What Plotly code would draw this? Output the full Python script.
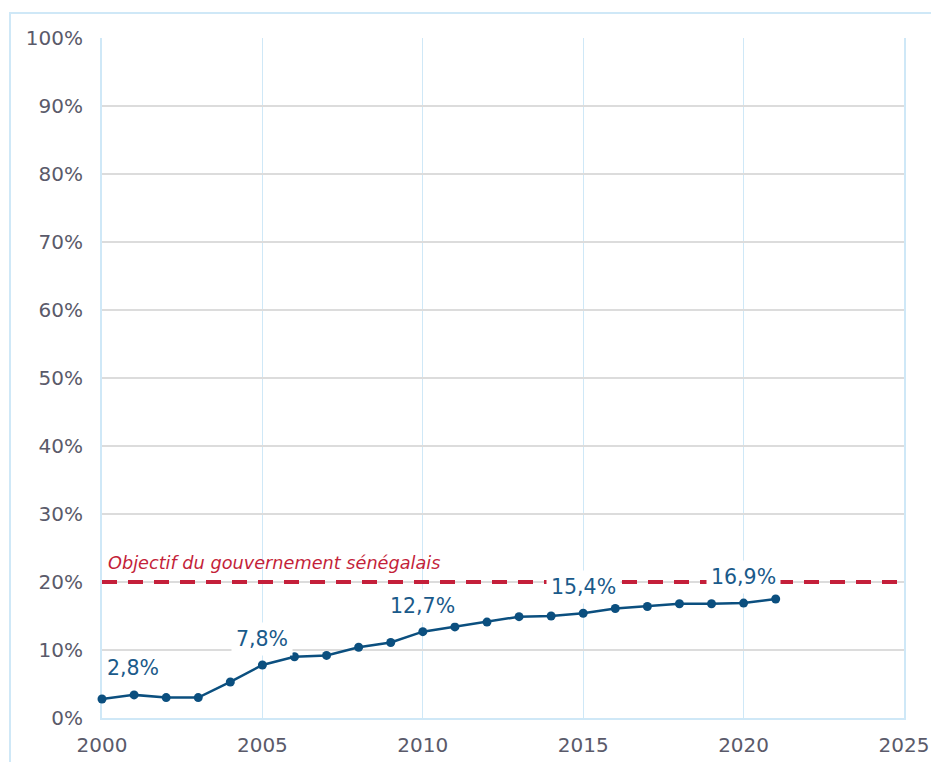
import plotly.graph_objects as go

years = list(range(2000, 2022))
values = [2.8, 3.4, 3.0, 3.0, 5.3, 7.8, 9.0, 9.2, 10.4, 11.1, 12.7, 13.4, 14.1, 14.9, 15.0,
          15.4, 16.1, 16.4, 16.8, 16.8, 16.9, 17.5]
label_years = [2000, 2005, 2010, 2015, 2020]
label_texts = ["2,8%", "7,8%", "12,7%", "15,4%", "16,9%"]
target_value = 20
target_label = "Objectif du gouvernement sénégalais"
x_ticks = [2000, 2005, 2010, 2015, 2020, 2025]
y_ticks = list(range(0, 101, 10))
y_ticklabels = [f"{v}%" for v in y_ticks]

FONT = "DejaVu Sans"
BLUE = "#0b4f7f"
RED = "#c41f3a"
GREY = "#5a5a6a"

fig = go.Figure()

fig.add_trace(go.Scatter(
    x=[x_ticks[0], x_ticks[-1]], y=[target_value, target_value],
    mode="lines", line=dict(color=RED, width=4, dash="15px,11px"),
    hoverinfo="skip", showlegend=False, cliponaxis=False))

fig.add_trace(go.Scatter(
    x=years, y=values, mode="lines+markers",
    line=dict(color=BLUE, width=2.5), marker=dict(color=BLUE, size=9),
    showlegend=False, cliponaxis=False))

vals = dict(zip(years, values))
for i, (yr, txt) in enumerate(zip(label_years, label_texts)):
    first = i == 0
    fig.add_annotation(
        x=yr, y=vals[yr], text=txt, showarrow=False,
        xanchor="left" if first else "center",
        yshift=31 if first else 26,
        bgcolor="white", borderpad=4,
        font=dict(family=FONT, size=20.5, color="#1a5a8a"))

fig.add_annotation(
    x=x_ticks[0], y=target_value, text=f"<i>{target_label}</i>", showarrow=False,
    xanchor="left", yanchor="bottom", xshift=4, yshift=7,
    font=dict(family=FONT, size=17.7, color=RED))

# outer frame
fig.add_shape(type="rect", xref="paper", yref="paper",
              x0=-0.1147, x1=1.2, y0=-0.2, y1=1.0368,
              line=dict(color="#cfe8f7", width=2), layer="below")

fig.update_xaxes(
    range=[2000, 2025], tickvals=x_ticks, ticktext=[str(t) for t in x_ticks],
    showgrid=True, gridcolor="#cfe8f7", gridwidth=1,
    showline=True, linecolor="#cfe8f7", linewidth=2, layer="below traces",
    ticks="outside", ticklen=8, tickcolor="rgba(0,0,0,0)", automargin=False,
    tickfont=dict(family=FONT, size=20, color=GREY), zeroline=False)

fig.update_yaxes(
    range=[0, 100], tickvals=y_ticks, ticktext=y_ticklabels,
    showgrid=True, gridcolor="#dcdcdc", gridwidth=1.5,
    showline=True, linecolor="#cfe8f7", linewidth=2, mirror=True, layer="below traces",
    ticks="outside", ticklen=13, tickcolor="rgba(0,0,0,0)", automargin=False,
    tickfont=dict(family=FONT, size=20, color=GREY), zeroline=False)

# the page body adds an 8px offset, so the figure is sized to fit the window
fig.update_layout(
    width=931, height=754,
    margin=dict(l=94, r=35, t=30, b=44),
    paper_bgcolor="white", plot_bgcolor="white",
    font=dict(family=FONT),
)

fig.write_html("out.html")
